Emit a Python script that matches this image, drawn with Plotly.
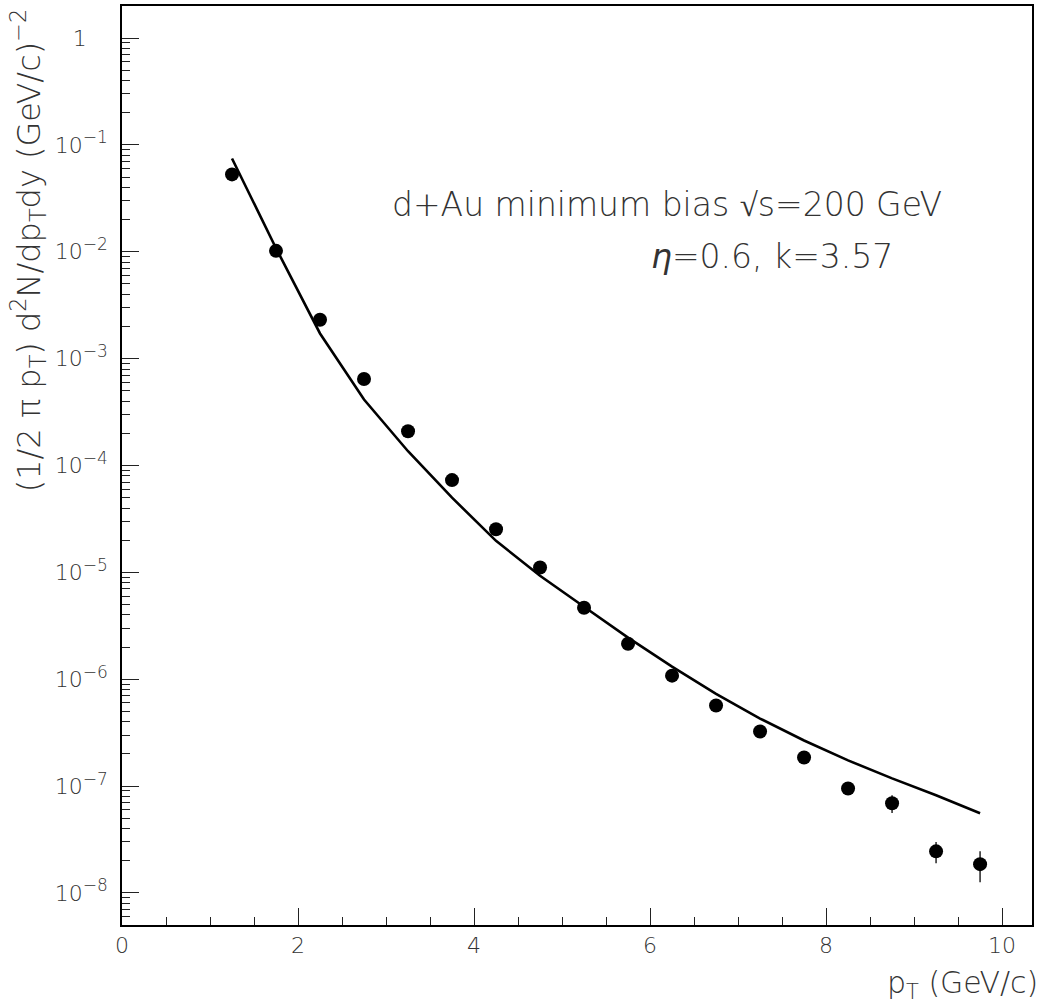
import plotly.graph_objects as go

# ---- data ----
pt = [1.25, 1.75, 2.25, 2.75, 3.25, 3.75, 4.25, 4.75, 5.25, 5.75,
      6.25, 6.75, 7.25, 7.75, 8.25, 8.75, 9.25, 9.75]
yield_data = [5.3e-2, 1.02e-2, 2.31e-3, 6.45e-4, 2.09e-4, 7.3e-5, 2.53e-5, 1.11e-5,
              4.66e-6, 2.15e-6, 1.08e-6, 5.67e-7, 3.24e-7, 1.85e-7, 9.5e-8, 6.9e-8,
              2.45e-8, 1.86e-8]
yield_err = [1.0e-3, 2.0e-4, 5.0e-5, 1.5e-5, 5.0e-6, 1.8e-6, 6.0e-7, 3.0e-7,
             1.2e-7, 6.0e-8, 3.5e-8, 2.0e-8, 1.3e-8, 9.0e-9, 6.0e-9, 1.3e-8,
             5.5e-9, 6.0e-9]
curve_pt = [1.25, 1.75, 2.25, 2.75, 3.25, 3.75, 4.25, 4.75, 5.25, 5.75,
            6.25, 6.75, 7.25, 7.75, 8.25, 8.75, 9.25, 9.75]
curve_y = [7.47e-2, 1.08e-2, 1.72e-3, 4.14e-4, 1.36e-4, 5.0e-5, 1.97e-5, 9.3e-6,
           4.76e-6, 2.45e-6, 1.31e-6, 7.3e-7, 4.28e-7, 2.67e-7, 1.74e-7, 1.18e-7,
           8.2e-8, 5.56e-8]

y_major = [1e-8, 1e-7, 1e-6, 1e-5, 1e-4, 1e-3, 1e-2, 1e-1, 1]
y_exponents = ["\u22128", "\u22127", "\u22126", "\u22125", "\u22124", "\u22123", "\u22122", "\u22121"]
y_major_text = ["10<sup><span style='font-size:17px'>%s</span></sup>" % e for e in y_exponents]
y_major_text.append("1\u00a0\u00a0\u00a0")

FONT = "DejaVu Sans"
TXT = "#333333"
W = 200

y_minor = []
for e in range(-9, 1):
    for m in range(2, 10):
        y_minor.append(m * 10.0 ** e)

fig = go.Figure()
fig.add_trace(go.Scatter(
    x=curve_pt, y=curve_y, mode="lines",
    line=dict(color="black", width=2.6), showlegend=False, hoverinfo="skip"))
fig.add_trace(go.Scatter(
    x=pt, y=yield_data, mode="markers",
    marker=dict(color="black", size=14, symbol="circle"),
    error_y=dict(type="data", array=yield_err, visible=True, width=0,
                 thickness=1.6, color="#333333"),
    showlegend=False))

fig.update_layout(
    width=1047, height=1004,
    margin=dict(l=122, r=15, t=4, b=79),
    paper_bgcolor="white", plot_bgcolor="white",
    font=dict(family=FONT, color=TXT, weight=W),
)
fig.update_xaxes(
    range=[0, 10.34], showgrid=False, zeroline=False,
    showline=True, linecolor="black", linewidth=1.6, mirror=True,
    ticks="inside", ticklen=17, tickwidth=1.3, tickcolor="#222222",
    dtick=2, tick0=0,
    tickfont=dict(size=22, family=FONT, color=TXT, weight=W),
    minor=dict(ticks="inside", ticklen=8, tickwidth=1.3, tickcolor="#222222", dtick=0.5, showgrid=False),
)
fig.update_yaxes(
    type="log", range=[-8.3, 0.3], showgrid=False, zeroline=False,
    showline=True, linecolor="black", linewidth=1.6, mirror=True,
    ticks="inside", ticklen=17, tickwidth=1.3, tickcolor="#222222",
    tickvals=y_major, ticktext=y_major_text, ticklabelstandoff=8,
    tickfont=dict(size=22, family=FONT, color=TXT, weight=W),
    minor=dict(ticks="inside", ticklen=8, tickwidth=1.3, tickcolor="#222222",
               tickvals=y_minor, showgrid=False),
)

fig.add_annotation(
    text="(1/2 \u03c0 p<sub>T</sub>) d<sup>2</sup>N/dp<sub>T</sub>dy (GeV/c)<sup>\u22122</sup>",
    xref="paper", yref="paper", x=-0.103, y=1.0, xanchor="center", yanchor="top",
    textangle=-90, showarrow=False,
    font=dict(size=32, family=FONT, color=TXT, weight=W))
fig.add_annotation(
    text="p<sub>T</sub> (GeV/c)",
    xref="paper", yref="paper", x=1.0088, y=-0.065, xanchor="right", yanchor="middle",
    showarrow=False, font=dict(size=30, family=FONT, color=TXT, weight=W))
fig.add_annotation(
    text="d+Au minimum bias \u221as=200 GeV",
    xref="paper", yref="paper", x=0.599, y=0.784, xanchor="center", yanchor="middle",
    showarrow=False, font=dict(size=33, family=FONT, color=TXT, weight=W))
fig.add_annotation(
    text="<i>\u03b7</i>=0.6, k=3.57",
    xref="paper", yref="paper", x=0.714, y=0.7275, xanchor="center", yanchor="middle",
    showarrow=False, font=dict(size=33, family=FONT, color=TXT, weight=W))

fig.write_html("out.html", config={"displayModeBar": False},
               post_script="document.body.style.margin='0px';")
